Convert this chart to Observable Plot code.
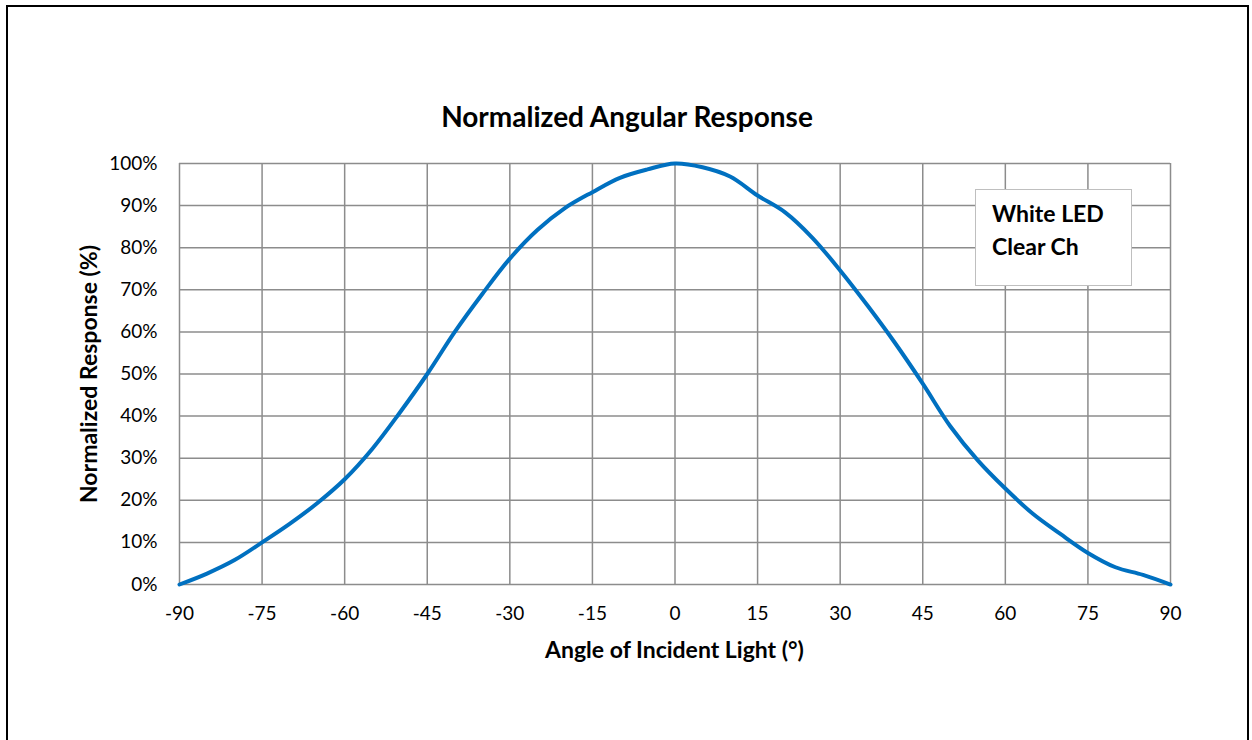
<!DOCTYPE html>
<html>
<head>
<meta charset="utf-8">
<script src="https://cdn.jsdelivr.net/npm/d3@7"></script>
<script src="https://cdn.jsdelivr.net/npm/@observablehq/plot@0.6"></script>
<style>
  html, body { margin: 0; padding: 0; background: #fff; overflow: hidden; }
  #wrap { position: relative; width: 1252px; height: 740px; overflow: hidden; font-family: Lato, "Open Sans", sans-serif; }
  #border { position: absolute; left: 6px; top: 5px; width: 1239px; height: 800px; border: 2px solid #000; box-sizing: content-box; pointer-events: none; }
  #title { position: absolute; left: 0; width: 1254px; top: 98px; text-align: center; font-weight: bold; font-size: 28px; line-height: 36px; color: #000; }
  #xtitle { position: absolute; left: 179px; width: 991px; top: 635px; text-align: center; font-weight: bold; font-size: 23px; line-height: 28px; color: #000; }
  #ytitle { position: absolute; left: 88px; top: 374px; transform: translate(-50%, -50%) rotate(-90deg); white-space: nowrap; font-weight: bold; font-size: 23px; line-height: 28px; color: #000; }
  #legend { position: absolute; left: 975px; top: 189px; width: 157px; height: 97px; background: #fff; border: 1.5px solid #bfbfbf; font-weight: bold; font-size: 23px; line-height: 33px; padding: 7px 0 0 16px; box-sizing: border-box; color: #000; }
</style>
</head>
<body>
<div id="wrap">
  <div id="chart"></div>
  <div id="title">Normalized Angular Response</div>
  <div id="xtitle">Angle of Incident Light (°)</div>
  <div id="ytitle">Normalized Response (%)</div>
  <div id="legend">White LED<br>Clear Ch</div>
  <div id="border"></div>
</div>
<script>
const angles = [-90,-85,-80,-75,-70,-65,-60,-55,-50,-45,-40,-35,-30,-25,-20,-15,-10,-5,0,5,10,15,20,25,30,35,40,45,50,55,60,65,70,75,80,85,90];
const response = [0,2.6,5.8,10,14.4,19.3,25,32.2,40.8,50,60,69,77.4,84.2,89.4,93.2,96.6,98.6,100,99.1,96.9,92.4,88.4,82.3,74.6,66.2,57.3,47.7,37.6,29.5,22.8,16.8,12,7.5,4.1,2.3,0];
const xTicks = [-90,-75,-60,-45,-30,-15,0,15,30,45,60,75,90];
const yTicks = [0,10,20,30,40,50,60,70,80,90,100];

const data = angles.map((a, i) => ({angle: a, value: response[i]}));

const chart = Plot.plot({
  width: 1252,
  height: 740,
  marginLeft: 179,
  marginRight: 82,
  marginTop: 163,
  marginBottom: 156,
  style: {fontFamily: "Lato, 'Open Sans', sans-serif", fontSize: "19px", color: "#000", background: "#fff"},
  x: {domain: [-90, 90], label: null},
  y: {domain: [0, 100], label: null},
  marks: [
    Plot.gridX(xTicks, {stroke: "#8c8c8c", strokeOpacity: 1, strokeWidth: 1.5}),
    Plot.gridY(yTicks, {stroke: "#8c8c8c", strokeOpacity: 1, strokeWidth: 1.5}),
    Plot.axisX({ticks: xTicks, tickSize: 0, tickPadding: 22, label: null, tickFormat: d => String(d)}),
    Plot.axisY({ticks: yTicks, tickSize: 0, tickPadding: 22, label: null, tickFormat: d => d + "%"}),
    Plot.line(data, {x: "angle", y: "value", stroke: "#0070C0", strokeWidth: 4, curve: "catmull-rom"})
  ]
});
document.getElementById("chart").appendChild(chart);
</script>
</body>
</html>
